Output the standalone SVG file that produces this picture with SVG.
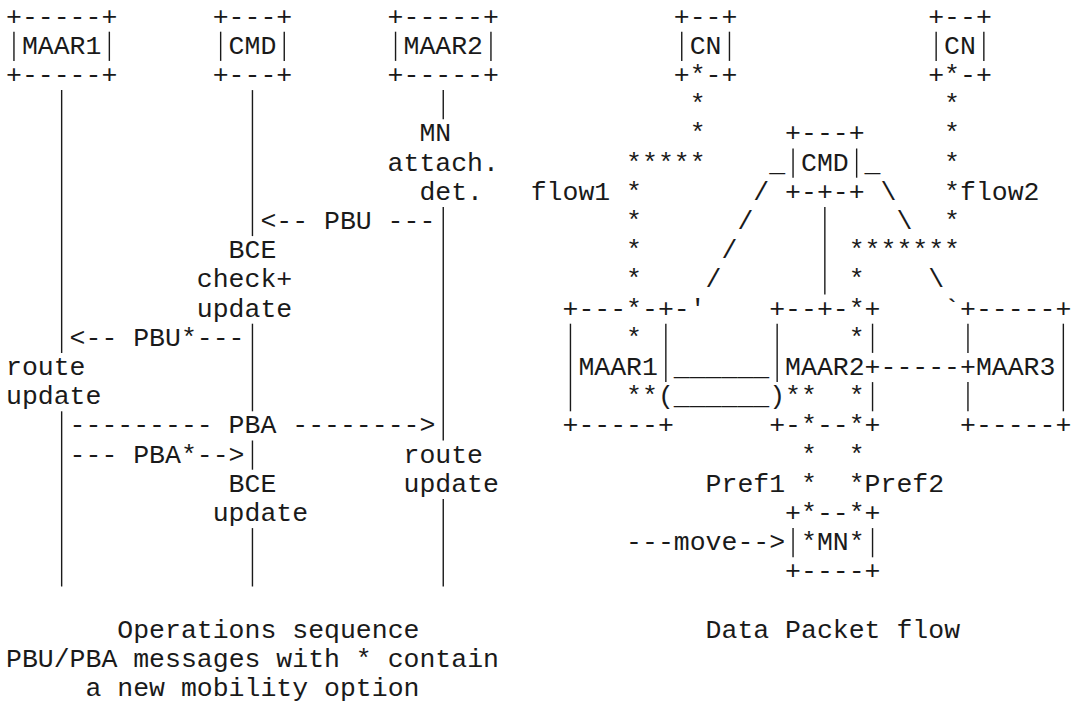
<svg xmlns="http://www.w3.org/2000/svg" width="1073" height="704" viewBox="0 0 1073 704">
<style>
text{font-family:"Liberation Mono","DejaVu Sans Mono",monospace;font-size:26.5px;fill:#1a1a1a;white-space:pre}
line{stroke:#1a1a1a;stroke-width:1.4}
</style>
<rect width="1073" height="704" fill="#fff"/>
<!-- Left: operations sequence -->
<g id="maar1-seq">
<text x="6" y="24.5">+-----+</text><text x="21.9" y="53.7">MAAR1</text><text x="6" y="82.9">+-----+</text>
<line x1="13.95" y1="31.7" x2="13.95" y2="60.9"/><line x1="109.35" y1="31.7" x2="109.35" y2="60.9"/>
</g>
<g id="cmd-seq">
<text x="212.7" y="24.5">+---+</text><text x="228.6" y="53.7">CMD</text><text x="212.7" y="82.9">+---+</text>
<line x1="220.65" y1="31.7" x2="220.65" y2="60.9"/><line x1="284.25" y1="31.7" x2="284.25" y2="60.9"/>
</g>
<g id="maar2-seq">
<text x="387.6" y="24.5">+-----+</text><text x="403.5" y="53.7">MAAR2</text><text x="387.6" y="82.9">+-----+</text>
<line x1="395.55" y1="31.7" x2="395.55" y2="60.9"/><line x1="490.95" y1="31.7" x2="490.95" y2="60.9"/>
</g>
<g id="seq-connectors">
<line x1="61.65" y1="90.1" x2="61.65" y2="352.9"/>
<line x1="61.65" y1="411.3" x2="61.65" y2="586.5"/>
<line x1="252.45" y1="90.1" x2="252.45" y2="236.1"/>
<line x1="252.45" y1="323.7" x2="252.45" y2="411.3"/>
<line x1="252.45" y1="440.5" x2="252.45" y2="469.7"/>
<line x1="252.45" y1="528.1" x2="252.45" y2="586.5"/>
<line x1="443.25" y1="90.1" x2="443.25" y2="119.3"/>
<line x1="443.25" y1="206.9" x2="443.25" y2="440.5"/>
<line x1="443.25" y1="498.9" x2="443.25" y2="586.5"/>
<text x="260.4" y="228.9">&lt;-- PBU ---</text>
<text x="69.6" y="345.7">&lt;-- PBU*---</text>
<text x="69.6" y="433.3">--------- PBA --------&gt;</text>
<text x="69.6" y="462.5">--- PBA*--&gt;</text>
</g>
<g id="seq-labels">
<text x="419.4" y="141.3">MN</text>
<text x="387.6" y="170.5">attach.</text>
<text x="419.4" y="199.7">det.</text>
<text x="228.6" y="258.1">BCE</text>
<text x="196.8" y="287.3">check+</text>
<text x="196.8" y="316.5">update</text>
<text x="6" y="374.9">route</text>
<text x="6" y="404.1">update</text>
<text x="403.5" y="462.5">route</text>
<text x="228.6" y="491.7">BCE</text>
<text x="403.5" y="491.7">update</text>
<text x="212.7" y="520.9">update</text>
<text x="117.3" y="637.7">Operations sequence</text>
<text x="6" y="666.9">PBU/PBA messages with * contain</text>
<text x="85.5" y="696.1">a new mobility option</text>
</g>
<!-- Right: data packet flow -->
<g id="cn1">
<text x="673.8" y="24.5">+--+</text><text x="689.7" y="53.7">CN</text><text x="673.8" y="82.9">+*-+</text>
<line x1="681.75" y1="31.7" x2="681.75" y2="60.9"/><line x1="729.45" y1="31.7" x2="729.45" y2="60.9"/>
</g>
<g id="cn2">
<text x="928.2" y="24.5">+--+</text><text x="944.1" y="53.7">CN</text><text x="928.2" y="82.9">+*-+</text>
<line x1="936.15" y1="31.7" x2="936.15" y2="60.9"/><line x1="983.85" y1="31.7" x2="983.85" y2="60.9"/>
</g>
<g id="cmd-net">
<text x="785.1" y="141.3">+---+</text><text x="801" y="170.5">CMD</text><text x="785.1" y="199.7">+-+-+</text>
<line x1="793.05" y1="148.5" x2="793.05" y2="177.7"/><line x1="856.65" y1="148.5" x2="856.65" y2="177.7"/>
</g>
<g id="maar1-net">
<text x="562.5" y="316.5">+---*-+-'</text>
<line x1="570.45" y1="323.7" x2="570.45" y2="411.3"/>
<line x1="665.85" y1="323.7" x2="665.85" y2="382.1"/>
<text x="578.4" y="374.9">MAAR1</text>
<text x="562.5" y="433.3">+-----+</text>
</g>
<g id="maar2-net">
<text x="769.2" y="316.5">+--+-*+</text>
<line x1="777.15" y1="323.7" x2="777.15" y2="382.1"/>
<line x1="872.55" y1="323.7" x2="872.55" y2="352.9"/>
<line x1="872.55" y1="382.1" x2="872.55" y2="411.3"/>
<text x="785.1" y="374.9">MAAR2</text>
<text x="769.2" y="433.3">+-*--*+</text>
</g>
<g id="maar3">
<text x="960" y="316.5">+-----+</text>
<line x1="967.95" y1="323.7" x2="967.95" y2="352.9"/>
<line x1="967.95" y1="382.1" x2="967.95" y2="411.3"/>
<line x1="1063.35" y1="323.7" x2="1063.35" y2="411.3"/>
<text x="975.9" y="374.9">MAAR3</text>
<text x="960" y="433.3">+-----+</text>
</g>
<g id="mn">
<text x="785.1" y="520.9">+*--*+</text>
<line x1="793.05" y1="528.1" x2="793.05" y2="557.3"/>
<line x1="872.55" y1="528.1" x2="872.55" y2="557.3"/>
<text x="801" y="550.1">*MN*</text>
<text x="785.1" y="579.3">+----+</text>
</g>
<g id="net-connectors">
<text x="689.7" y="112.1">*</text><text x="944.1" y="112.1">*</text>
<text x="689.7" y="141.3">*</text><text x="944.1" y="141.3">*</text>
<text x="626.1" y="170.5">*****</text><text x="769.2" y="170.5">_</text><text x="864.6" y="170.5">_</text><text x="944.1" y="170.5">*</text>
<text x="626.1" y="199.7">*</text><text x="753.3" y="199.7">/</text><text x="880.5" y="199.7">\</text><text x="944.1" y="199.7">*</text>
<text x="626.1" y="228.9">*</text><text x="737.4" y="228.9">/</text><text x="896.4" y="228.9">\</text><text x="944.1" y="228.9">*</text>
<line x1="824.85" y1="206.9" x2="824.85" y2="294.5"/>
<text x="626.1" y="258.1">*</text><text x="721.5" y="258.1">/</text><text x="848.7" y="258.1">*******</text>
<text x="626.1" y="287.3">*</text><text x="705.6" y="287.3">/</text><text x="848.7" y="287.3">*</text><text x="928.2" y="287.3">\</text>
<text x="944.1" y="316.5">`</text>
<text x="626.1" y="345.7">*</text><text x="848.7" y="345.7">*</text>
<text x="673.8" y="374.9">______</text>
<text x="864.6" y="374.9">+-----+</text>
<text x="626.1" y="404.1">**(______)**</text><text x="848.7" y="404.1">*</text>
<text x="801" y="462.5">*</text><text x="848.7" y="462.5">*</text>
<text x="801" y="491.7">*</text><text x="848.7" y="491.7">*</text>
<text x="626.1" y="550.1">---move--&gt;</text>
</g>
<g id="net-labels">
<text x="530.7" y="199.7">flow1</text>
<text x="960" y="199.7">flow2</text>
<text x="705.6" y="491.7">Pref1</text>
<text x="864.6" y="491.7">Pref2</text>
<text x="705.6" y="637.7">Data Packet flow</text>
</g>
</svg>
